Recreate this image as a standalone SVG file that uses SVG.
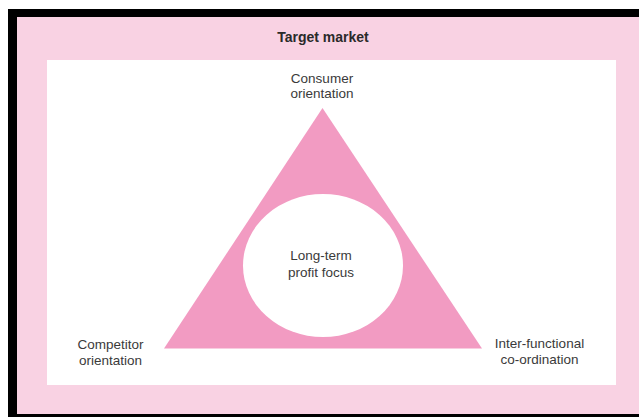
<svg xmlns="http://www.w3.org/2000/svg" width="639" height="417" viewBox="0 0 639 417">
<style>
.lbl{font-family:"Liberation Sans",Arial,sans-serif;font-size:13.5px;fill:#3a3a3a;text-anchor:middle}
.title{font-family:"Liberation Sans",Arial,sans-serif;font-size:14px;font-weight:bold;fill:#2a2a2a;text-anchor:middle}
</style>
<rect x="0" y="0" width="639" height="417" fill="#ffffff"/>
<g id="frame">
<rect x="8" y="9" width="631" height="408" fill="#000000"/>
<rect x="17" y="17" width="622" height="397" fill="#f9d2e3"/>
</g>
<g id="target-market">
<rect x="47" y="60" width="569" height="325" fill="#ffffff"/>
<text class="title" x="323" y="42">Target market</text>
</g>
<g id="triangle">
<polygon points="322.5,108 164,348.5 482,348.5" fill="#f29bc2"/>
</g>
<g id="long-term-profit-focus">
<ellipse cx="323" cy="265.5" rx="80" ry="71.5" fill="#ffffff"/>
<text class="lbl" x="321" y="260">Long-term</text>
<text class="lbl" x="321" y="277">profit focus</text>
</g>
<g id="consumer-orientation">
<text class="lbl" x="322" y="83">Consumer</text>
<text class="lbl" x="322" y="98">orientation</text>
</g>
<g id="competitor-orientation">
<text class="lbl" x="110.5" y="349">Competitor</text>
<text class="lbl" x="110.5" y="365">orientation</text>
</g>
<g id="inter-functional-coordination">
<text class="lbl" x="539.5" y="348">Inter-functional</text>
<text class="lbl" x="539.5" y="364">co-ordination</text>
</g>
<g id="connectors"></g>
</svg>
